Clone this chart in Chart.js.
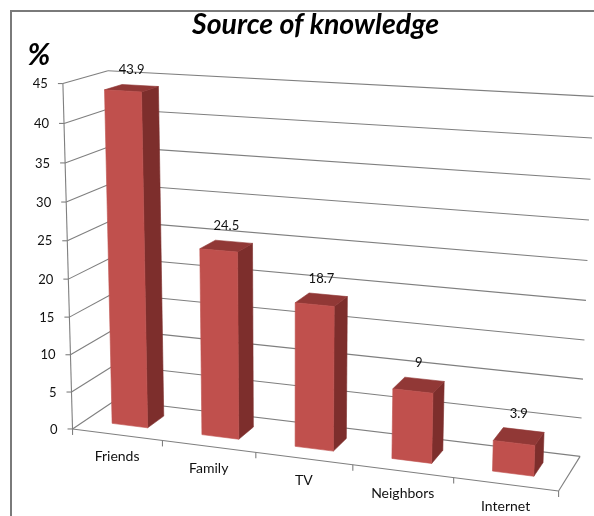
<!DOCTYPE html>
<html>
<head>
<meta charset="utf-8">
<script src="https://cdn.jsdelivr.net/npm/chart.js@4/dist/chart.umd.min.js"></script>
<style>
  html, body { margin: 0; padding: 0; background: #ffffff; }
  #wrap { position: relative; width: 594px; height: 516px; }
</style>
</head>
<body>
<div id="wrap"><canvas id="c" width="594" height="516"></canvas></div>
<script>
// ---------- data ----------
const categories = ['Friends', 'Family', 'TV', 'Neighbors', 'Internet'];
const values = [43.9, 24.5, 18.7, 9, 3.9];
const valueLabels = ['43.9', '24.5', '18.7', '9', '3.9'];
const yTicks = [0, 5, 10, 15, 20, 25, 30, 35, 40, 45];
const yTickLabels = ['0', '5', '10', '15', '20', '25', '30', '35', '40', '45'];
const chartTitle = 'Source of knowledge';
const yUnit = '%';

// ---------- 3D view calibration (frame corners: u along categories, v height 0..1, w depth 0..1) ----------
const VIEW = [
  [0, 0, 0, 74, 426], [0, 1, 0, 61, 84], [0, 0, 1, 113, 403], [0, 1, 1, 110, 71],
  [1, 1, 1, 593, 96], [1, 0, 1, 580, 453], [1, 0, 0, 558, 492],
  [0.2, 0, 0, 163, 440], [0.4, 0, 0, 257, 453], [0.6, 0, 0, 353, 465], [0.8, 0, 0, 453, 480],
  [0, 20 / 45, 0, 68, 278], [1, 20 / 45, 1, 587, 301]
];
const BAR_DEPTH = [0.3, 0.7];

function solveDLT(pts) {
  const A = [], b = [];
  for (const [u, v, w, x, y] of pts) {
    A.push([u, v, w, 1, 0, 0, 0, 0, -x * u, -x * v, -x * w]); b.push(x);
    A.push([0, 0, 0, 0, u, v, w, 1, -y * u, -y * v, -y * w]); b.push(y);
  }
  const n = 11;
  const M = Array.from({ length: n }, () => new Array(n + 1).fill(0));
  for (let r = 0; r < A.length; r++) {
    for (let i = 0; i < n; i++) {
      for (let j = 0; j < n; j++) M[i][j] += A[r][i] * A[r][j];
      M[i][n] += A[r][i] * b[r];
    }
  }
  for (let c = 0; c < n; c++) {
    let p = c;
    for (let r = c + 1; r < n; r++) if (Math.abs(M[r][c]) > Math.abs(M[p][c])) p = r;
    [M[c], M[p]] = [M[p], M[c]];
    for (let r = 0; r < n; r++) {
      if (r === c) continue;
      const f = M[r][c] / M[c][c];
      for (let k = c; k <= n; k++) M[r][k] -= f * M[c][k];
    }
  }
  return M.map((row, i) => row[n] / row[i]);
}
const P = solveDLT(VIEW);
function proj(u, v, w) {
  const d = P[8] * u + P[9] * v + P[10] * w + 1;
  return [(P[0] * u + P[1] * v + P[2] * w + P[3]) / d, (P[4] * u + P[5] * v + P[6] * w + P[7]) / d];
}

const COLORS = {
  grid: '#7f7f7f', text: '#111111', front: '#C0504D', side: '#7D2E2C', top: '#913836', border: '#7a7a7a'
};
const FONT = 'Lato, "Open Sans", sans-serif';

function line(ctx, a, b) {
  ctx.beginPath(); ctx.moveTo(a[0], a[1]); ctx.lineTo(b[0], b[1]); ctx.stroke();
}
function poly(ctx, pts, color) {
  ctx.beginPath();
  ctx.moveTo(pts[0][0], pts[0][1]);
  for (let i = 1; i < pts.length; i++) ctx.lineTo(pts[i][0], pts[i][1]);
  ctx.closePath();
  ctx.fillStyle = color; ctx.fill();
  ctx.strokeStyle = color; ctx.lineWidth = 0.6; ctx.stroke();
}

const perspectivePlugin = {
  id: 'perspective3d',
  afterDraw(chart) {
    const ctx = chart.ctx;
    const xs = chart.scales.x, ys = chart.scales.y;
    const W = xs.right - xs.left;
    const uOf = px => (px - xs.left) / W;
    const y0 = ys.getPixelForValue(ys.min), yTop = ys.getPixelForValue(ys.max);
    const vOf = val => (y0 - ys.getPixelForValue(val)) / (y0 - yTop);
    ctx.save();

    // outer border
    ctx.strokeStyle = COLORS.border; ctx.lineWidth = 2;
    ctx.beginPath(); ctx.moveTo(11, 600); ctx.lineTo(11, 11); ctx.lineTo(700, 11); ctx.stroke();

    // title and unit
    ctx.fillStyle = '#000';
    ctx.textBaseline = 'alphabetic'; ctx.textAlign = 'center';
    ctx.font = 'italic bold 24px ' + FONT;
    const tw = ctx.measureText(chartTitle).width;
    const ts = 24 * 247 / tw;
    ctx.font = 'italic bold ' + ts.toFixed(2) + 'px ' + FONT;
    ctx.fillText(chartTitle, 315.5, 34);
    ctx.font = 'italic bold 30px ' + FONT;
    ctx.fillText(yUnit, 39, 65);

    // gridlines: back wall + side wall
    ctx.strokeStyle = COLORS.grid; ctx.lineWidth = 1.1;
    yTicks.forEach(t => {
      const v = vOf(t);
      line(ctx, proj(0, v, 0), proj(0, v, 1));
      line(ctx, proj(0, v, 1), proj(1, v, 1));
    });
    // floor edges + vertical axis
    line(ctx, proj(0, 0, 0), proj(1, 0, 0));
    line(ctx, proj(1, 0, 0), proj(1, 0, 1));
    line(ctx, proj(0, 0, 0), proj(0, 1, 0));
    // y ticks and labels
    ctx.font = '13px ' + FONT; ctx.fillStyle = COLORS.text;
    ctx.textAlign = 'right'; ctx.textBaseline = 'middle';
    yTicks.forEach((t, i) => {
      const p = proj(0, vOf(t), 0);
      line(ctx, [p[0] - 5, p[1]], p);
      ctx.fillText(yTickLabels[i], p[0] - 15, p[1] + 0.5);
    });
    // category ticks (boundaries)
    const centers = categories.map((_, i) => xs.getPixelForValue(i));
    const step = centers.length > 1 ? centers[1] - centers[0] : W;
    for (let i = 0; i <= categories.length; i++) {
      const px = i < categories.length ? centers[i] - step / 2 : centers[i - 1] + step / 2;
      const p = proj(uOf(px), 0, 0);
      line(ctx, p, [p[0], p[1] + 6]);
    }
    // category labels
    ctx.font = '14px ' + FONT; ctx.textAlign = 'center'; ctx.textBaseline = 'middle';
    categories.forEach((c, i) => {
      const p = proj(uOf(centers[i]), 0, 0);
      ctx.fillText(c, p[0], p[1] + 22);
    });

    // bars
    const meta = chart.getDatasetMeta(0);
    const [w0, w1] = BAR_DEPTH;
    meta.data.forEach((el) => {
      const u0 = uOf(el.x - el.width / 2), u1 = uOf(el.x + el.width / 2);
      const vt = (el.base - el.y) / (ys.bottom - ys.top);
      poly(ctx, [proj(u1, 0, w0), proj(u1, 0, w1), proj(u1, vt, w1), proj(u1, vt, w0)], COLORS.side);
      poly(ctx, [proj(u0, vt, w0), proj(u1, vt, w0), proj(u1, vt, w1), proj(u0, vt, w1)], COLORS.top);
      poly(ctx, [proj(u0, 0, w0), proj(u1, 0, w0), proj(u1, vt, w0), proj(u0, vt, w0)], COLORS.front);
    });
    // value labels
    ctx.font = '13px ' + FONT; ctx.fillStyle = COLORS.text;
    ctx.textAlign = 'center'; ctx.textBaseline = 'middle';
    meta.data.forEach((el, i) => {
      const uc = uOf(el.x);
      const vt = (el.base - el.y) / (ys.bottom - ys.top);
      const px = proj(uc, vt, 0.5)[0];
      const py = proj(uc, vt, w1)[1];
      ctx.fillText(valueLabels[i], px, py - 16);
    });
    ctx.restore();
  }
};

new Chart(document.getElementById('c').getContext('2d'), {
  type: 'bar',
  data: {
    labels: categories,
    datasets: [{
      data: values,
      backgroundColor: 'rgba(0,0,0,0)',
      borderWidth: 0,
      barPercentage: 0.4,
      categoryPercentage: 1
    }]
  },
  options: {
    responsive: false,
    animation: false,
    events: [],
    layout: { padding: 0 },
    plugins: { legend: { display: false }, tooltip: { enabled: false }, title: { display: false } },
    scales: {
      x: { display: false, offset: true },
      y: { display: false, min: 0, max: 45, ticks: { stepSize: 5 } }
    }
  },
  plugins: [perspectivePlugin]
});
</script>
</body>
</html>
